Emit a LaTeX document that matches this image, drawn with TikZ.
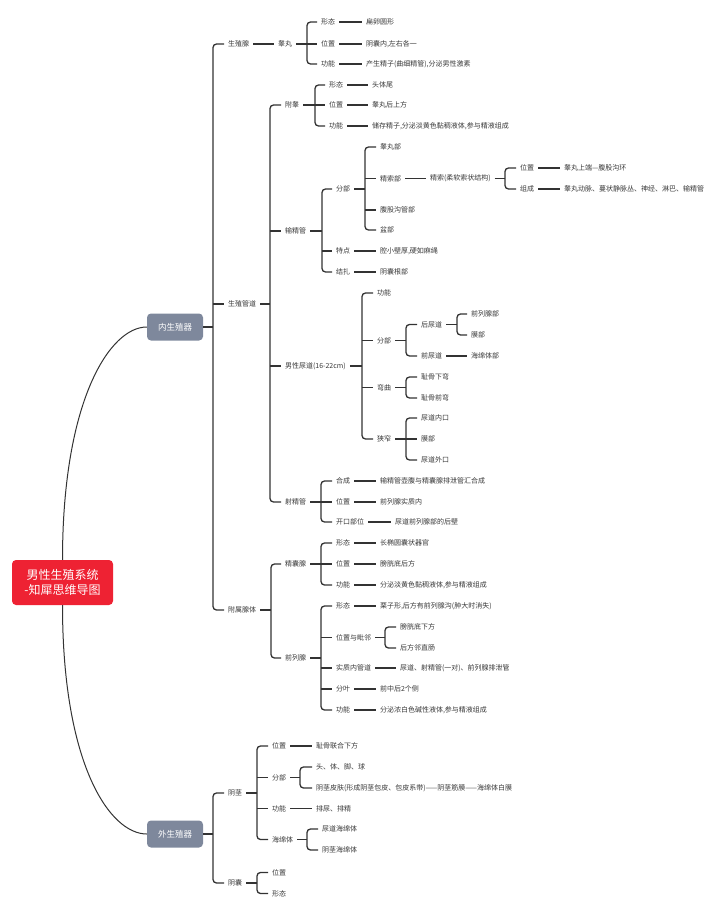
\documentclass[tikz,border=0pt]{standalone}
\usepackage{fontspec}
\setmainfont{Noto Sans CJK SC}
\newfontfamily\cjk{Noto Sans CJK SC}
\definecolor{txt}{HTML}{383838}
\definecolor{ln}{HTML}{333333}
\definecolor{rootred}{HTML}{EE2233}
\definecolor{catgray}{HTML}{7E889C}
\tikzset{
 t/.style={font=\cjk\fontsize{7}{8.4}\selectfont, text=txt, inner sep=1pt, outer xsep=3pt, anchor=west, xshift=-4pt},
 conn/.style={draw=ln, line width=1.3pt},
 brk/.style={conn, rounded corners=3.5pt},
 cat/.style={fill=catgray, rounded corners=4pt, minimum width=56pt, minimum height=27pt, text=white, font=\cjk\fontsize{8.5}{10}\selectfont, inner sep=0pt},
 curve/.style={draw=ln, line width=1pt}
}
\newcommand\lk[2]{\draw[conn] (#1.east) -- (#2.west);}
\newcommand\mstub[2]{\draw[conn] (#1 |- #2.west) -- (#2.west);}
\newcommand\mybrk[4]{\draw[conn] (#1.east) -- (#2); \draw[brk] (#3.west) -| (#2) |- (#4.west);}
\begin{document}
\begin{tikzpicture}[x=1pt,y=-1pt]
\useasboundingbox (0,0) rectangle (720,912);
% root and categories
\node[fill=rootred, rounded corners=4pt, minimum width=101pt, minimum height=45pt, text=white, font=\cjk\fontsize{12}{15}\selectfont, align=center, inner sep=0pt] (root) at (62.5,582.5) {男性生殖系统\\-知犀思维导图};
\node[cat] (inner) at (175,327) {内生殖器};
\node[cat] (outer) at (175,834) {外生殖器};
\draw[curve] (root.north) .. controls (62.5,400) and (110,327) .. (inner.west);
\draw[curve] (root.south) .. controls (62.5,765) and (110,834) .. (outer.west);

% ===== inner level 2
\coordinate (b0) at (213,327);
\node[t] (gsx) at (228,44) {生殖腺};
\node[t] (gsgd) at (228,304) {生殖管道};
\node[t] (fsxt) at (228,610) {附属腺体};
\mybrk{inner}{b0}{gsx}{fsxt}
\mstub{b0}{gsgd}

% 生殖腺
\node[t] (gw) at (278,44) {睾丸};
\lk{gsx}{gw}
\coordinate (b1) at (307,44);
\node[t] (gw1) at (321,22) {形态};
\node[t] (gw2) at (321,44) {位置};
\node[t] (gw3) at (321,64) {功能};
\mybrk{gw}{b1}{gw1}{gw3}
\mstub{b1}{gw2}
\node[t] (gw1a) at (366,22) {扁卵圆形};
\node[t] (gw2a) at (366,44) {阴囊内,左右各一};
\node[t] (gw3a) at (366,64) {产生精子(曲细精管),分泌男性激素};
\lk{gw1}{gw1a} \lk{gw2}{gw2a} \lk{gw3}{gw3a}

% 生殖管道
\coordinate (b2) at (270,304);
\node[t] (fg) at (285,105) {附睾};
\node[t] (ssg) at (285,231) {输精管};
\node[t] (nd) at (285,366) {男性尿道(16-22cm)};
\node[t] (sjg) at (285,502) {射精管};
\mybrk{gsgd}{b2}{fg}{sjg}
\mstub{b2}{ssg} \mstub{b2}{nd}

% 附睾
\coordinate (b3) at (315,105);
\node[t] (fg1) at (329,85) {形态};
\node[t] (fg2) at (329,105) {位置};
\node[t] (fg3) at (329,126) {功能};
\mybrk{fg}{b3}{fg1}{fg3}
\mstub{b3}{fg2}
\node[t] (fg1a) at (372,85) {头体尾};
\node[t] (fg2a) at (372,105) {睾丸后上方};
\node[t] (fg3a) at (372,126) {储存精子,分泌淡黄色黏稠液体,参与精液组成};
\lk{fg1}{fg1a} \lk{fg2}{fg2a} \lk{fg3}{fg3a}

% 输精管
\coordinate (b4) at (322,231);
\node[t] (ss1) at (336,189) {分部};
\node[t] (ss2) at (336,251) {特点};
\node[t] (ss3) at (336,272) {结扎};
\mybrk{ssg}{b4}{ss1}{ss3}
\mstub{b4}{ss2}
\node[t] (ss2a) at (380,251) {腔小壁厚,硬如麻绳};
\node[t] (ss3a) at (380,272) {阴囊根部};
\lk{ss2}{ss2a} \lk{ss3}{ss3a}
\coordinate (b5) at (365,189);
\node[t] (fb1) at (380,147) {睾丸部};
\node[t] (fb2) at (380,178.5) {精索部};
\node[t] (fb3) at (380,210) {腹股沟管部};
\node[t] (fb4) at (380,230) {盆部};
\mybrk{ss1}{b5}{fb1}{fb4}
\mstub{b5}{fb2} \mstub{b5}{fb3}
\node[t] (jsq) at (430,178.5) {精索(柔软索状结构)};
\lk{fb2}{jsq}
\coordinate (b6) at (505,178.5);
\node[t] (jq1) at (520,168) {位置};
\node[t] (jq2) at (520,189) {组成};
\mybrk{jsq}{b6}{jq1}{jq2}
\node[t] (jq1a) at (564,168) {睾丸上端—腹股沟环};
\node[t] (jq2a) at (564,189) {睾丸动脉、蔓状静脉丛、神经、淋巴、输精管};
\lk{jq1}{jq1a} \lk{jq2}{jq2a}

% 男性尿道
\coordinate (b7) at (362,366);
\node[t] (nd1) at (377,293) {功能};
\node[t] (nd2) at (377,340.5) {分部};
\node[t] (nd3) at (377,387.5) {弯曲};
\node[t] (nd4) at (377,439) {狭窄};
\mybrk{nd}{b7}{nd1}{nd4}
\mstub{b7}{nd2} \mstub{b7}{nd3}
\coordinate (b8) at (406,340.5);
\node[t] (hnd) at (421,324.5) {后尿道};
\node[t] (qnd) at (421,356) {前尿道};
\mybrk{nd2}{b8}{hnd}{qnd}
\coordinate (b9) at (457,324.5);
\node[t] (hn1) at (471,314) {前列腺部};
\node[t] (hn2) at (471,335) {膜部};
\mybrk{hnd}{b9}{hn1}{hn2}
\node[t] (qn1) at (471,356) {海绵体部};
\lk{qnd}{qn1}
\coordinate (b10) at (406,387.5);
\node[t] (wq1) at (421,377) {耻骨下弯};
\node[t] (wq2) at (421,398) {耻骨前弯};
\mybrk{nd3}{b10}{wq1}{wq2}
\coordinate (b11) at (406,439);
\node[t] (xz1) at (421,418) {尿道内口};
\node[t] (xz2) at (421,439) {膜部};
\node[t] (xz3) at (421,460) {尿道外口};
\mybrk{nd4}{b11}{xz1}{xz3}
\mstub{b11}{xz2}

% 射精管
\coordinate (b12) at (321,502);
\node[t] (sj1) at (336,481) {合成};
\node[t] (sj2) at (336,502) {位置};
\node[t] (sj3) at (336,522) {开口部位};
\mybrk{sjg}{b12}{sj1}{sj3}
\mstub{b12}{sj2}
\node[t] (sj1a) at (380,481) {输精管壶腹与精囊腺排泄管汇合成};
\node[t] (sj2a) at (380,502) {前列腺实质内};
\node[t] (sj3a) at (395,522) {尿道前列腺部的后壁};
\lk{sj1}{sj1a} \lk{sj2}{sj2a} \lk{sj3}{sj3a}

% 附属腺体
\coordinate (b13) at (271,610);
\node[t] (jng) at (285,564) {精囊腺};
\node[t] (qlx) at (285,658) {前列腺};
\mybrk{fsxt}{b13}{jng}{qlx}
\coordinate (b14) at (321,564);
\node[t] (jn1) at (336,543) {形态};
\node[t] (jn2) at (336,564) {位置};
\node[t] (jn3) at (336,585) {功能};
\mybrk{jng}{b14}{jn1}{jn3}
\mstub{b14}{jn2}
\node[t] (jn1a) at (380,543) {长椭圆囊状器官};
\node[t] (jn2a) at (380,564) {膀胱底后方};
\node[t] (jn3a) at (380,585) {分泌淡黄色黏稠液体,参与精液组成};
\lk{jn1}{jn1a} \lk{jn2}{jn2a} \lk{jn3}{jn3a}
\coordinate (b15) at (321,658);
\node[t] (ql1) at (336,606) {形态};
\node[t] (ql2) at (336,637.5) {位置与毗邻};
\node[t] (ql3) at (336,668) {实质内管道};
\node[t] (ql4) at (336,689) {分叶};
\node[t] (ql5) at (336,710) {功能};
\mybrk{qlx}{b15}{ql1}{ql5}
\mstub{b15}{ql2} \mstub{b15}{ql3} \mstub{b15}{ql4}
\node[t] (ql1a) at (380,606) {栗子形,后方有前列腺沟(肿大时消失)};
\lk{ql1}{ql1a}
\coordinate (b16) at (385,637.5);
\node[t] (ql2a) at (400,627) {膀胱底下方};
\node[t] (ql2b) at (400,648) {后方邻直肠};
\mybrk{ql2}{b16}{ql2a}{ql2b}
\node[t] (ql3a) at (400,668) {尿道、射精管(一对)、前列腺排泄管};
\node[t] (ql4a) at (380,689) {前中后2个侧};
\node[t] (ql5a) at (380,710) {分泌浓白色碱性液体,参与精液组成};
\lk{ql3}{ql3a} \lk{ql4}{ql4a} \lk{ql5}{ql5a}

% ===== outer
\coordinate (b17) at (213,834);
\node[t] (yj) at (228,793) {阴茎};
\node[t] (yn) at (228,883) {阴囊};
\mybrk{outer}{b17}{yj}{yn}
\coordinate (b18) at (257,793);
\node[t] (yj1) at (272,746) {位置};
\node[t] (yj2) at (272,777.5) {分部};
\node[t] (yj3) at (272,808.5) {功能};
\node[t] (yj4) at (272,839.5) {海绵体};
\mybrk{yj}{b18}{yj1}{yj4}
\mstub{b18}{yj2} \mstub{b18}{yj3}
\node[t] (yj1a) at (316,746) {耻骨联合下方};
\lk{yj1}{yj1a}
\coordinate (b19) at (300,777.5);
\node[t] (yj2a) at (316,767) {头、体、脚、球};
\node[t] (yj2b) at (316,788) {阴茎皮肤(形成阴茎包皮、包皮系带)——阴茎筋膜——海绵体白膜};
\mybrk{yj2}{b19}{yj2a}{yj2b}
\node[t] (yj3a) at (316,808.5) {排尿、排精};
\lk{yj3}{yj3a}
\coordinate (b20) at (307,839.5);
\node[t] (yj4a) at (322,829) {尿道海绵体};
\node[t] (yj4b) at (322,850) {阴茎海绵体};
\mybrk{yj4}{b20}{yj4a}{yj4b}
\coordinate (b21) at (257,883);
\node[t] (yn1) at (272,872.5) {位置};
\node[t] (yn2) at (272,893.5) {形态};
\mybrk{yn}{b21}{yn1}{yn2}
\end{tikzpicture}
\end{document}
